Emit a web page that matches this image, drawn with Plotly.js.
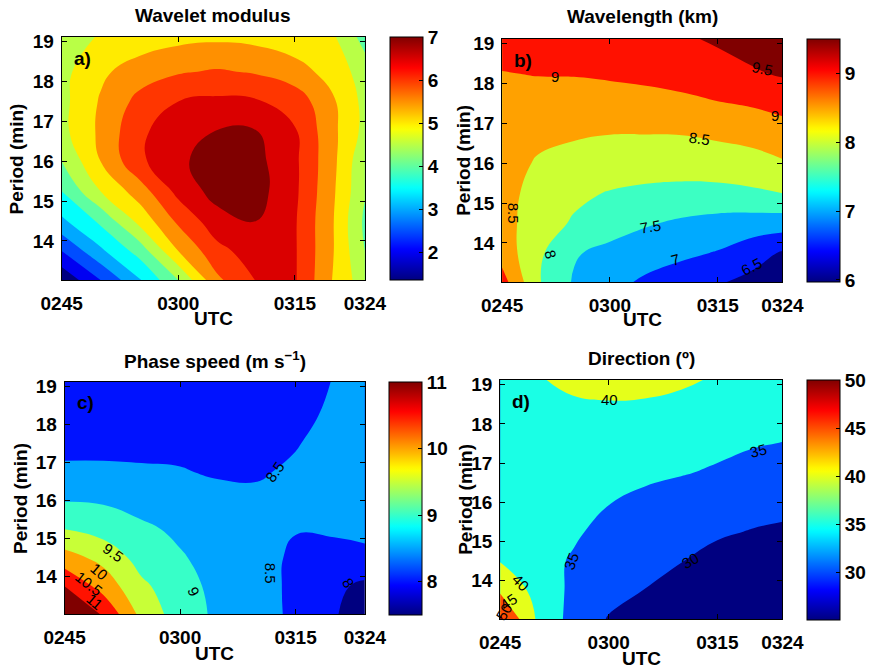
<!DOCTYPE html>
<html><head><meta charset="utf-8">
<script src="https://cdn.plot.ly/plotly-3.0.1.min.js"></script>
<style>html,body{margin:0;padding:0;background:#fff}#chart{width:872px;height:671px}</style>
</head><body><div id="chart"></div>
<script>
// x: minutes after 02:45 UTC, y: wave period (min)
const utcMinutes = [0, 5, 10, 15, 20, 25, 30, 35, 39];
const periodMin = [13.02, 13.75, 14.5, 15.25, 16, 16.75, 17.5, 18.25, 19.12];
const utcTickVals = [0, 15, 30, 39];
const utcTickLabels = ['0245', '0300', '0315', '0324'];
const periodTicks = [14, 15, 16, 17, 18, 19];

// a) Wavelet modulus (rows = period, cols = UTC)
const waveletModulus = [
  [1.6, 2.5, 3.45, 4.5, 5.9, 6.52, 6.55, 5.45, 4.7],
  [2.5, 3.4, 4.2, 5.5, 6.35, 6.75, 6.55, 5.5, 4.5],
  [3.4, 4.1, 5.15, 6.1, 6.8, 7.0, 6.55, 5.5, 4.4],
  [4.0, 5.0, 5.75, 6.65, 7.2, 7.2, 6.6, 5.55, 4.55],
  [4.5, 5.5, 6.4, 6.9, 7.25, 7.15, 6.6, 5.6, 4.6],
  [4.85, 5.6, 6.4, 6.8, 7.02, 7.02, 6.55, 5.6, 4.85],
  [4.85, 5.55, 6.15, 6.5, 6.6, 6.55, 6.3, 5.55, 4.85],
  [4.85, 5.4, 5.75, 5.95, 6.05, 5.95, 5.7, 5.3, 4.75],
  [4.7, 5.05, 5.2, 5.35, 5.4, 5.35, 5.2, 5.05, 4.3]
];
// b) Wavelength (km)
const wavelengthKm = [
  [9.2, 8.05, 7.45, 7.15, 6.92, 6.74, 6.55, 6.35, 6.15],
  [8.8, 8.1, 7.55, 7.35, 7.22, 7.1, 6.97, 6.7, 6.45],
  [8.7, 8.22, 7.95, 7.75, 7.55, 7.42, 7.32, 7.27, 7.25],
  [8.7, 8.3, 8.1, 7.97, 7.9, 7.87, 7.88, 7.93, 8.0],
  [8.72, 8.45, 8.35, 8.27, 8.22, 8.2, 8.22, 8.3, 8.45],
  [8.8, 8.62, 8.55, 8.51, 8.51, 8.52, 8.6, 8.7, 8.8],
  [8.85, 8.8, 8.75, 8.75, 8.78, 8.85, 8.97, 9.05, 9.15],
  [8.98, 9.02, 9.03, 9.08, 9.15, 9.25, 9.35, 9.45, 9.55],
  [9.25, 9.25, 9.28, 9.3, 9.35, 9.45, 9.55, 9.7, 9.85]
];
// c) Phase speed (m/s)
const phaseSpeed = [
  [11.5, 10.95, 9.85, 9.25, 8.9, 8.7, 8.4, 8.05, 7.7],
  [11.0, 10.3, 9.6, 9.2, 8.85, 8.68, 8.4, 8.1, 7.9],
  [10.2, 9.85, 9.3, 9.05, 8.8, 8.67, 8.42, 8.3, 8.35],
  [9.5, 9.3, 9.1, 8.9, 8.75, 8.66, 8.52, 8.58, 8.65],
  [8.98, 8.95, 8.8, 8.75, 8.65, 8.6, 8.6, 8.68, 8.75],
  [8.6, 8.6, 8.57, 8.53, 8.45, 8.45, 8.58, 8.7, 8.8],
  [8.35, 8.35, 8.35, 8.38, 8.3, 8.35, 8.47, 8.68, 8.8],
  [8.3, 8.3, 8.28, 8.3, 8.25, 8.3, 8.35, 8.6, 8.75],
  [8.3, 8.3, 8.27, 8.28, 8.25, 8.3, 8.3, 8.52, 8.7]
];
// d) Direction (degrees)
const directionDeg = [
  [51, 39.7, 33.3, 29.7, 28.5, 27.2, 26, 25.5, 25.2],
  [44.3, 38.5, 34, 31.5, 29.9, 28.6, 27, 26.2, 25.8],
  [39.8, 36.3, 34.7, 32.8, 31.5, 30.1, 28.8, 27.8, 27.2],
  [37.5, 36, 35.5, 34, 32.8, 31.8, 30.5, 29.8, 29.4],
  [37, 36.3, 36, 35.1, 34.3, 33.5, 32.5, 31.5, 31.2],
  [37, 36.7, 36.5, 35.8, 35.6, 35.2, 34.6, 33.5, 33.2],
  [37, 37.2, 37.2, 36.5, 36.3, 36.2, 35.8, 35.3, 34.9],
  [37.5, 38.3, 38.8, 39.0, 38.9, 38.5, 38.2, 37.2, 36.5],
  [38, 39.6, 41, 41.5, 41.3, 40.6, 39.6, 38, 37.5]
];

// contour label texts as printed in the reference: [text, UTC minute, period, rotation]
const wavelengthLabels = [
  ['9', 7.3, 18.18, 0], ['9.5', 36.2, 18.39, 12], ['9', 37.9, 17.19, 0], ['8.5', 27.5, 16.63, 8],
  ['8.5', 1.7, 14.75, 90], ['8', 6.8, 13.72, 75], ['7.5', 20.7, 14.41, -10], ['7', 24.1, 13.59, -15],
  ['6.5', 34.7, 13.41, -28]
];
const phaseSpeedLabels = [
  ['8.5', 27.3, 16.77, -55], ['8.5', 26.7, 14.1, 90], ['9', 16.8, 13.62, 65], ['9.5', 6.3, 14.65, 35],
  ['10', 4.5, 14.14, 40], ['10.5', 3.1, 13.81, 38], ['11', 3.9, 13.35, 40], ['8', 36.8, 13.84, 60]
];
const directionLabels = [
  ['40', 15.1, 18.61, 0], ['35', 35.7, 17.31, -15], ['35', 9.8, 14.49, -70], ['30', 26.3, 14.51, -30],
  ['40', 2.8, 13.94, 45], ['45', 1.2, 13.47, -35], ['50', 0.6, 13.2, -60]
];

const FONT = 'Liberation Sans, Arial, Helvetica, sans-serif';
const W = 872, H = 671;

function jet(t) {
  t = Math.max(0, Math.min(1, t));
  const c = v => Math.round(255 * Math.max(0, Math.min(1, v)));
  return 'rgb(' + c(Math.min(4*t-1.5, -4*t+4.5)) + ',' + c(Math.min(4*t-0.5, -4*t+3.5)) + ',' + c(Math.min(4*t+0.5, -4*t+2.5)) + ')';
}
const jetScale = [];
for (let i = 0; i < 64; i++) { jetScale.push([i/63, jet(i/63)]); }

function levelsOf(start, end, size) {
  const out = [];
  for (let v = start; v <= end + size*1e-6; v += size) out.push(+v.toFixed(6));
  return out;
}
function bandScale(levels, cmin, cmax) {
  const n = levels.length;
  const cols = [jet(0)].concat(levels.map(L => jet((L - cmin) / (cmax - cmin))));
  return cols.map((c, k) => [k / n, c]);
}

const panels = [
  {z: waveletModulus, start: 2, end: 7, size: 0.5, cmin: 1.37, cmax: 7, cbTicks: [2,3,4,5,6,7], labels: [],
   px: [62, 367], py: [37, 280], cb: [392, 37, 280], letter: 'a)', title: 'Wavelet modulus', titleY: 16, utcY: 318, perX: 17},
  {z: wavelengthKm, start: 6.5, end: 9.5, size: 0.5, cmin: 5.97, cmax: 9.5, cbTicks: [6,7,8,9], labels: wavelengthLabels,
   px: [505, 787], py: [39, 282], cb: [812, 39, 282], letter: 'b)', title: 'Wavelength (km)', titleY: 17, utcY: 320, perX: 466},
  {z: phaseSpeed, start: 8, end: 11, size: 0.5, cmin: 7.5, cmax: 11, cbTicks: [8,9,10,11], labels: phaseSpeedLabels,
   px: [65, 367], py: [382, 614], cb: [391, 382, 615], letter: 'c)', title: 'Phase speed (m s<sup>\u22121</sup>)', titleY: 360, utcY: 653, perX: 21},
  {z: directionDeg, start: 30, end: 50, size: 5, cmin: 25, cmax: 50, cbTicks: [30,35,40,45,50], labels: directionLabels,
   px: [503, 787], py: [380, 619], cb: [812, 380, 620], letter: 'd)', title: 'Direction (\u00ba)', titleY: 358, utcY: 658, perX: 468}
];

const data = [];
const layout = {
  width: W, height: H, margin: {l: 0, r: 0, t: 0, b: 0},
  paper_bgcolor: '#fff', plot_bgcolor: '#fff', showlegend: false,
  font: {family: FONT, color: '#000'}, annotations: []
};

panels.forEach((p, i) => {
  const n = i === 0 ? '' : String(i + 1);
  const xa = 'x' + n, ya = 'y' + n;
  const levels = levelsOf(p.start, p.end, p.size);
  data.push({
    type: 'contour', x: utcMinutes, y: periodMin, z: p.z, xaxis: xa, yaxis: ya,
    autocontour: false,
    contours: {start: p.start, end: p.end, size: p.size, coloring: 'fill', showlines: false, showlabels: false},
    line: {width: 0, smoothing: 1.3},
    colorscale: bandScale(levels, p.cmin, p.cmax), showscale: false, hoverinfo: 'skip'
  });
  data.push({
    type: 'scatter', mode: 'markers', x: [-50, -50], y: [0, 0], xaxis: xa, yaxis: ya,
    hoverinfo: 'skip', showlegend: false,
    marker: {size: 1, color: [p.cmin, p.cmax], cmin: p.cmin, cmax: p.cmax, colorscale: jetScale, showscale: true,
      colorbar: {x: p.cb[0] / W, xanchor: 'left', xpad: 0, ypad: 0,
        y: 1 - (p.cb[1] + p.cb[2]) / 2 / H, yanchor: 'middle', len: p.cb[2] - p.cb[1], lenmode: 'pixels',
        thickness: 33, thicknessmode: 'pixels', outlinewidth: 1, outlinecolor: '#000',
        ticks: 'inside', ticklen: 4, tickcolor: '#000', tickvals: p.cbTicks,
        tickfont: {family: FONT, size: 19, color: '#000', weight: 'bold'}}}
  });
  const axBase = {showline: true, linecolor: '#000', linewidth: 1, mirror: 'ticks', ticks: 'inside', ticklen: 5,
    tickcolor: '#000', showgrid: false, zeroline: false, fixedrange: true,
    tickfont: {family: FONT, size: 19, color: '#000', weight: 'bold'}};
  layout['xaxis' + n] = Object.assign({}, axBase, {anchor: ya, domain: [p.px[0] / W, p.px[1] / W],
    range: [0, 39], tickmode: 'array', tickvals: utcTickVals, ticktext: utcTickLabels, ticklabelstandoff: 6});
  layout['yaxis' + n] = Object.assign({}, axBase, {anchor: xa, domain: [1 - p.py[1] / H, 1 - p.py[0] / H],
    range: [13.02, 19.12], tickmode: 'array', tickvals: periodTicks, ticklabelstandoff: 3});
  const cx = (p.px[0] + p.px[1]) / 2 / W;
  const tfont = {family: FONT, size: 19, color: '#000'};
  layout.annotations.push(
    {xref: 'paper', yref: 'paper', x: cx, y: 1 - p.titleY / H, text: '<b>' + p.title + '</b>', showarrow: false,
     xanchor: 'center', yanchor: 'middle', font: {family: FONT, size: 19, color: '#000'}},
    {xref: 'paper', yref: 'paper', x: cx, y: 1 - p.utcY / H, text: '<b>UTC</b>', showarrow: false,
     xanchor: 'center', yanchor: 'middle', font: tfont},
    {xref: 'paper', yref: 'paper', x: p.perX / W, y: 1 - (p.py[0] + p.py[1]) / 2 / H, text: '<b>Period (min)</b>',
     textangle: -90, showarrow: false, xanchor: 'center', yanchor: 'middle', font: tfont},
    {xref: xa + ' domain', yref: ya + ' domain', x: 0.035, y: 0.91, text: '<b>' + p.letter + '</b>', showarrow: false,
     xanchor: 'left', yanchor: 'middle', font: tfont}
  );
  p.labels.forEach(l => {
    layout.annotations.push({xref: xa, yref: ya, x: l[1], y: l[2], text: l[0], textangle: l[3], showarrow: false,
      xanchor: 'center', yanchor: 'middle', font: {family: FONT, size: 15, color: '#000'}});
  });
});

Plotly.newPlot('chart', data, layout, {staticPlot: true, displayModeBar: false});
</script></body></html>
